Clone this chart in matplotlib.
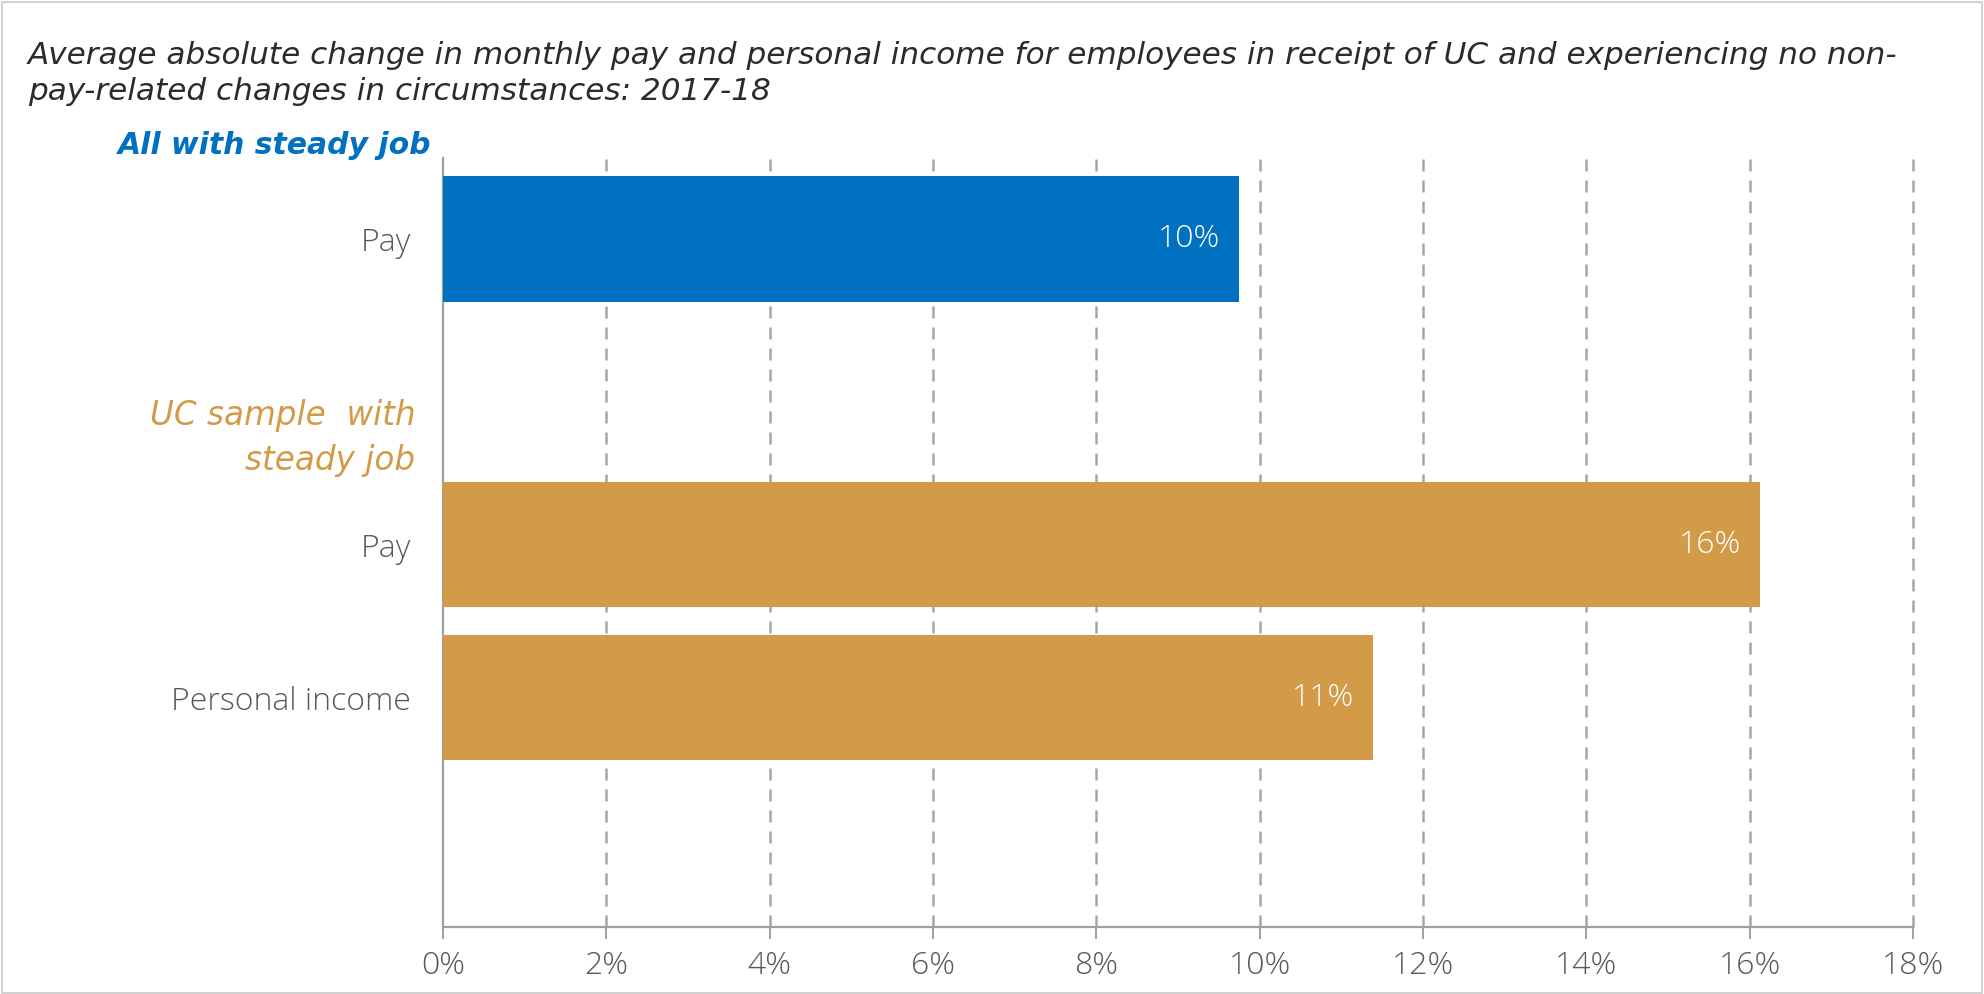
import matplotlib
matplotlib.use("Agg")
import matplotlib.pyplot as plt
from matplotlib.patches import Rectangle

# Data
labels = ["Pay", "Pay", "Personal income"]
values = [9.75, 16.13, 11.39]          # average absolute change, %
groups = ["All with steady job", "UC sample  with\nsteady job"]
bar_groups = [0, 1, 1]                  # which group each bar belongs to
x_ticks = [0, 2, 4, 6, 8, 10, 12, 14, 16, 18]
title = ("Average absolute change in monthly pay and personal income for employees in receipt of UC and experiencing no non-\n"
         "pay-related changes in circumstances: 2017-18")

group_colors = ["#0070C0", "#D39B48"]
grid_color = "#A6A6A6"
axis_color = "#A0A0A0"
text_gray = "#595959"

plt.rcParams["font.family"] = ["Open Sans", "DejaVu Sans"]
wide = ["DejaVu Sans"]

W, H, DPI = 1984, 994, 100
fig = plt.figure(figsize=(W / DPI, H / DPI), dpi=DPI)
fig.patch.set_facecolor("white")
fig.patches.append(Rectangle((0.001, 0.001), 0.998, 0.997, transform=fig.transFigure,
                             fill=False, edgecolor="#C8C8C8", linewidth=1.2))

ax = fig.add_axes([443 / W, 1 - 927 / H, (1913 - 443) / W, (927 - 158) / H])

# Row layout: first group at row 0, a spacer row for the second header, then its bars
rows = [0, 2, 3]
bar_h = 0.82
colors = [group_colors[g] for g in bar_groups]
ax.barh(rows, values, height=bar_h, color=colors, zorder=3)

for r, v in zip(rows, values):
    ax.annotate(f"{v:.0f}%", xy=(v, r), xytext=(-13.5, 0), textcoords="offset points",
                ha="right", va="center", color="white", fontsize=23, fontweight="light",
                zorder=4)

ax.set_xlim(0, 18)
ax.set_ylim(4.5, -0.53)
ax.set_xticks(x_ticks)
ax.set_xticklabels([f"{t}%" for t in x_ticks])
ax.set_yticks(rows)
ax.set_yticklabels(labels)

ax.tick_params(axis="x", length=8.5, width=1.4, color=axis_color, labelsize=23,
               labelcolor=text_gray, pad=8)
ax.tick_params(axis="y", length=0, labelsize=23, labelcolor=text_gray, pad=23)
for lab in ax.get_xticklabels() + ax.get_yticklabels():
    lab.set_fontweight("light")

for s in ["top", "right"]:
    ax.spines[s].set_visible(False)
for s in ["left", "bottom"]:
    ax.spines[s].set_color(axis_color)
    ax.spines[s].set_linewidth(1.6)

for t in x_ticks[1:]:
    ax.axvline(t, color=grid_color, linewidth=1.8, linestyle=(0, (4.8, 3.6)), zorder=1,
               clip_on=False)

# Group headers (baseline of the last line is the anchor)
ax.annotate(groups[0], xy=(0, 1), xycoords="axes fraction", xytext=(-8.6, 3),
            textcoords="offset points", ha="right", va="baseline",
            color=group_colors[0], fontsize=21.5, fontstyle="italic", fontweight="bold",
            family=wide)
ax.annotate(groups[1], xy=(0, 1.51), xycoords=("axes fraction", "data"), xytext=(-20, 0),
            textcoords="offset points", ha="right", va="baseline", multialignment="right",
            color=group_colors[1], fontsize=23.5, fontstyle="italic", family=wide,
            linespacing=1.45)

fig.text(28 / W, 1 - 100 / H, title, ha="left", va="baseline", fontsize=22.4,
         fontstyle="italic", family=wide, color="#2B2B2B", linespacing=1.3)

fig.savefig("out.png", dpi=DPI, facecolor="white")
